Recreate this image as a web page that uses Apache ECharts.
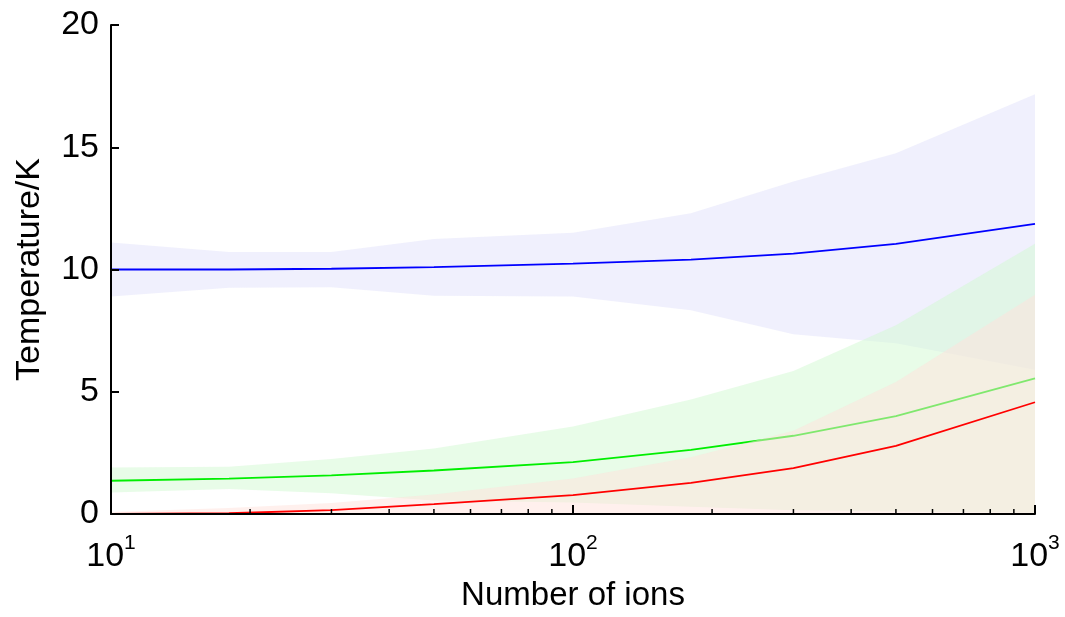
<!DOCTYPE html>
<html>
<head>
<meta charset="utf-8">
<script src="https://cdn.jsdelivr.net/npm/echarts@6/dist/echarts.min.js"></script>
<style>
html,body{margin:0;padding:0;background:#fff;overflow:hidden;}
#chart{width:1065px;height:617px;}
</style>
</head>
<body>
<div id="chart"></div>
<script>
// Number of ions (x) and temperatures (K)
const ions = [10, 18, 30, 50, 100, 180, 300, 500, 1000];

const blueMean  = [10.0, 10.0, 10.03, 10.1, 10.24, 10.4, 10.65, 11.05, 11.87];
const blueUpper = [11.1, 10.72, 10.72, 11.25, 11.5, 12.3, 13.6, 14.75, 17.17];
const blueLower = [8.9, 9.25, 9.27, 8.93, 8.9, 8.33, 7.35, 6.98, 5.9];

const greenMean  = [1.36, 1.45, 1.58, 1.78, 2.12, 2.62, 3.2, 4.0, 5.55];
const greenUpper = [1.9, 1.93, 2.25, 2.68, 3.58, 4.68, 5.85, 7.72, 11.05];
const greenLower = [0.88, 1.02, 0.85, 0.55, 0.47, 0.3, 0.15, 0.1, 0.05];

const redMean  = [0.0, 0.03, 0.16, 0.4, 0.77, 1.27, 1.88, 2.79, 4.57];
const redUpper = [0.08, 0.25, 0.45, 0.8, 1.45, 2.32, 3.4, 5.4, 8.97];
const redLower = [0, 0, 0, 0, 0, 0, 0, 0, 0];

const yTicks = [0, 5, 10, 15, 20];
const xMinorTicks = [20, 30, 40, 50, 60, 70, 80, 90, 200, 300, 400, 500, 600, 700, 800, 900];

const FONT = '"Liberation Sans", Arial, sans-serif';

function pairs(ys) { return ions.map((x, i) => [x, ys[i]]); }

function band(name, lower, upper, fill, z) {
  return {
    name: name + 'Band', type: 'custom', coordinateSystem: 'cartesian2d', z: z,
    data: ions.map((x, i) => [x, lower[i], upper[i]]),
    encode: { x: 0, y: [1, 2] }, silent: true, clip: true,
    renderItem: function (params, api) {
      if (params.dataIndex !== 0) return null;
      const pts = [];
      for (let i = 0; i < ions.length; i++) pts.push(api.coord([ions[i], upper[i]]));
      for (let i = ions.length - 1; i >= 0; i--) pts.push(api.coord([ions[i], lower[i]]));
      return { type: 'polygon', shape: { points: pts }, style: { fill: fill, stroke: null } };
    }
  };
}

function meanLine(name, ys, color, z) {
  return {
    name: name, type: 'line', data: pairs(ys), symbol: 'none', z: z,
    lineStyle: { color: color, width: 1.8 }
  };
}

const chart = echarts.init(document.getElementById('chart'), null, { renderer: 'canvas', width: 1065, height: 617 });

chart.setOption({
  animation: false,
  backgroundColor: '#ffffff',
  grid: { left: 111, width: 924, top: 25, height: 494, containLabel: false },
  xAxis: {
    type: 'log', logBase: 10, min: 10, max: 1000, z: 20,
    name: 'Number of ions', nameLocation: 'middle', nameGap: 65,
    nameTextStyle: { fontFamily: FONT, fontSize: 33, color: '#000' },
    axisLine: { lineStyle: { color: '#000', width: 2 } },
    axisTick: { inside: true, length: 9, lineStyle: { color: '#000', width: 2 } },
    splitLine: { show: false },
    axisLabel: {
      margin: 19,
      formatter: function (v) {
        const e = Math.round(Math.log10(v));
        return '{b|10}{s|' + e + '}';
      },
      rich: {
        b: { fontFamily: FONT, fontSize: 34, color: '#000' },
        s: { fontFamily: FONT, fontSize: 21, color: '#000', padding: [0, 0, 26, 0] }
      }
    }
  },
  yAxis: {
    type: 'value', min: 0, max: 20, interval: 5, z: 20,
    name: 'Temperature/K', nameLocation: 'middle', nameGap: 64,
    nameTextStyle: { fontFamily: FONT, fontSize: 34, color: '#000' },
    axisLine: { show: true, lineStyle: { color: '#000', width: 2 } },
    axisTick: { show: true, inside: true, length: 8, lineStyle: { color: '#000', width: 2 } },
    splitLine: { show: false },
    axisLabel: {
      margin: 12, fontFamily: FONT, fontSize: 34, color: '#000',
      formatter: function (v) { return yTicks.indexOf(v) >= 0 ? String(v) : ''; }
    }
  },
  series: [
    band('blue', blueLower, blueUpper, 'rgba(225,225,251,0.5)', 1),
    meanLine('blueMean', blueMean, '#0000ff', 2),
    band('green', greenLower, greenUpper, 'rgba(209,249,209,0.5)', 3),
    meanLine('greenMean', greenMean, '#00ee00', 4),
    band('red', redLower, redUpper, 'rgba(255,225,220,0.5)', 5),
    meanLine('redMean', redMean, '#ff0000', 6),
    {
      name: 'minorTicks', type: 'custom', coordinateSystem: 'cartesian2d',
      data: xMinorTicks.map(v => [v, 0]), clip: false, silent: true, z: 30,
      renderItem: function (params, api) {
        const p = api.coord([api.value(0), 0]);
        return {
          type: 'line',
          shape: { x1: p[0], y1: p[1], x2: p[0], y2: p[1] - 5 },
          style: { stroke: '#000', lineWidth: 1.5 }
        };
      }
    }
  ]
});
</script>
</body>
</html>
